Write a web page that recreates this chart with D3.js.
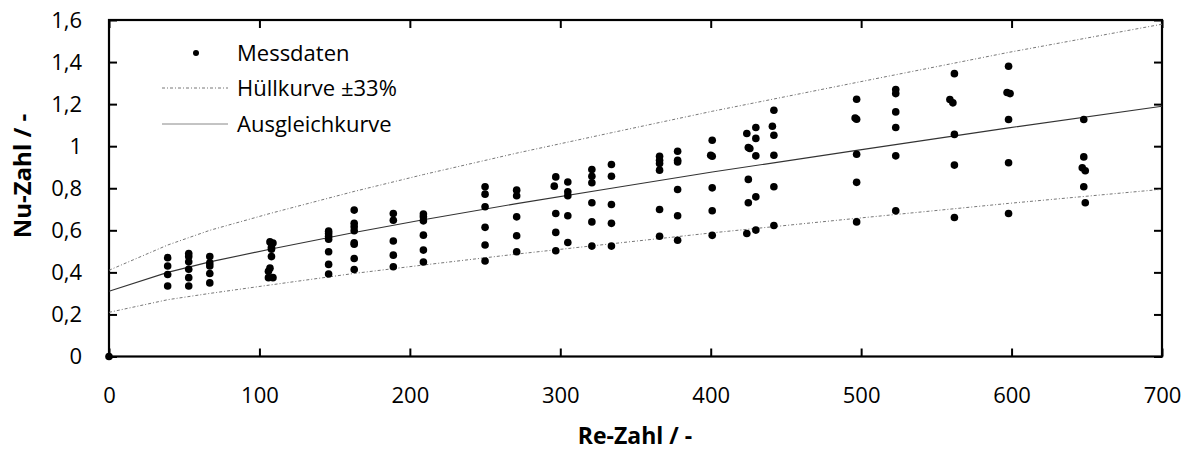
<!DOCTYPE html>
<html>
<head>
<meta charset="utf-8">
<script src="https://cdn.jsdelivr.net/npm/d3@7"></script>
<style>
  body { margin: 0; background: #fff; }
  svg { font-family: "Open Sans", "Noto Sans", sans-serif; }
</style>
</head>
<body>
<script>
// Messdaten (Re, Nu)
const messRe = [0,
  39, 39, 39, 39,
  53, 53, 53, 53, 53, 53,
  67, 67, 67, 67, 67,
  107, 109, 108, 108, 108, 107, 106, 106, 109,
  146, 146, 146, 146, 146, 146, 146,
  163, 163, 163, 163, 163, 163, 163, 163,
  189, 189, 189, 189, 189,
  209, 209, 209, 209, 209, 209,
  250, 250, 250, 250, 250, 250,
  271, 271, 271, 271, 271,
  297, 296, 297, 297, 297,
  305, 305, 305, 305, 305,
  321, 321, 321, 321, 321, 321,
  334, 334, 334, 334, 334,
  366, 366, 366, 366, 366, 366,
  378, 378, 378, 378, 378, 378,
  401, 400, 401, 401, 401, 401,
  424, 425, 426, 425, 425, 424,
  430, 430, 430, 430, 430,
  442, 441, 442, 442, 442, 442,
  497, 496, 497, 497, 497, 497,
  523, 523, 523, 523, 523, 523,
  562, 559, 561, 562, 562, 562,
  598, 597, 599, 598, 598, 598,
  648, 648, 647, 649, 648, 649];
const messNu = [0,
  0.47, 0.43, 0.39, 0.335,
  0.49, 0.475, 0.45, 0.415, 0.375, 0.335,
  0.475, 0.445, 0.43, 0.395, 0.35,
  0.545, 0.54, 0.52, 0.51, 0.475, 0.42, 0.405, 0.375, 0.375,
  0.596, 0.585, 0.572, 0.558, 0.498, 0.438, 0.392,
  0.696, 0.633, 0.617, 0.598, 0.541, 0.534, 0.466, 0.414,
  0.68, 0.648, 0.549, 0.482, 0.427,
  0.677, 0.664, 0.645, 0.577, 0.506, 0.449,
  0.807, 0.772, 0.712, 0.614, 0.53, 0.454,
  0.791, 0.764, 0.664, 0.574, 0.498,
  0.854, 0.81, 0.68, 0.59, 0.503,
  0.83, 0.783, 0.764, 0.669, 0.542,
  0.889, 0.857, 0.826, 0.731, 0.64, 0.525,
  0.913, 0.857, 0.723, 0.633, 0.525,
  0.952, 0.933, 0.918, 0.886, 0.699, 0.572,
  0.976, 0.933, 0.925, 0.794, 0.669, 0.553,
  1.028, 0.957, 0.952, 0.802, 0.693, 0.576,
  1.06, 0.994, 0.989, 0.842, 0.731, 0.585,
  1.089, 1.037, 0.954, 0.759, 0.601,
  1.171, 1.095, 1.052, 0.957, 0.807, 0.623,
  1.223, 1.134, 1.128, 0.962, 0.828, 0.64,
  1.269, 1.25, 1.163, 1.089, 0.954, 0.693,
  1.345, 1.222, 1.206, 1.056, 0.91, 0.661,
  1.38, 1.255, 1.25, 1.127, 0.921, 0.68,
  1.127, 0.949, 0.897, 0.883, 0.807, 0.731];

// Ausgleichkurve und Hüllkurven
const kurveRe = [0, 39, 67, 107, 163, 209, 271, 334, 401, 497, 598, 700];
const ausgleichNu = [0.31, 0.40, 0.45, 0.51, 0.59, 0.65, 0.727, 0.80, 0.877, 0.98, 1.087, 1.19];
const huelleOben = [0.41, 0.53, 0.60, 0.68, 0.785, 0.865, 0.967, 1.064, 1.166, 1.303, 1.446, 1.58];
const huelleUnten = [0.21, 0.27, 0.30, 0.34, 0.395, 0.435, 0.487, 0.536, 0.588, 0.657, 0.728, 0.795];

const xTicks = [0, 100, 200, 300, 400, 500, 600, 700];
const yTicks = [0, 0.2, 0.4, 0.6, 0.8, 1.0, 1.2, 1.4, 1.6];

function main(){
    const W = 1190, H = 452;
    const m = {left: 109, right: 28, top: 20, bottom: 95.5};
    const width = W - m.left - m.right;
    const height = H - m.top - m.bottom;

    const svg = d3.select("body").append("svg")
        .attr("width", W)
        .attr("height", H);

    const x = d3.scaleLinear().domain([0, 700]).range([0, width]);
    const y = d3.scaleLinear().domain([0, 1.6]).range([height, 0]);

    const g = svg.append("g").attr("transform", "translate(" + m.left + "," + m.top + ")");

    const fmt = d => String(+d.toFixed(1)).replace(".", ",");

    // axes with inside ticks
    const axB = g.append("g").attr("transform", "translate(0," + height + ")")
        .call(d3.axisBottom(x).tickValues(xTicks).tickSize(-8).tickPadding(31).tickFormat(d3.format("d")));
    const axT = g.append("g")
        .call(d3.axisTop(x).tickValues(xTicks).tickSize(-8).tickFormat(""));
    const axL = g.append("g")
        .call(d3.axisLeft(y).tickValues(yTicks).tickSize(-8).tickPadding(27).tickFormat(fmt));
    const axR = g.append("g").attr("transform", "translate(" + width + ",0)")
        .call(d3.axisRight(y).tickValues(yTicks).tickSize(-8).tickFormat(""));

    [axB, axT, axL, axR].forEach(a => {
        a.select(".domain").remove();
        a.selectAll(".tick line").attr("stroke", "#000").attr("stroke-width", 2);
        a.selectAll(".tick text").attr("font-size", "22px").attr("fill", "#000")
            .attr("font-family", "'Open Sans', sans-serif");
    });

    // frame
    g.append("rect")
        .attr("width", width).attr("height", height)
        .attr("fill", "none").attr("stroke", "#000").attr("stroke-width", 2.2);

    const line = d3.line()
        .x((d, i) => x(kurveRe[i]))
        .y(d => y(d));

    g.append("path").datum(huelleOben)
        .attr("fill", "none").attr("stroke", "#777").attr("stroke-width", 1)
        .attr("stroke-dasharray", "3,2,1,2")
        .attr("d", line);
    g.append("path").datum(huelleUnten)
        .attr("fill", "none").attr("stroke", "#777").attr("stroke-width", 1)
        .attr("stroke-dasharray", "3,2,1,2")
        .attr("d", line);
    g.append("path").datum(ausgleichNu)
        .attr("fill", "none").attr("stroke", "#333").attr("stroke-width", 1.1)
        .attr("d", line);

    g.append("g").selectAll("circle")
        .data(messRe)
        .join("circle")
        .attr("cx", d => x(d))
        .attr("cy", (d, i) => y(messNu[i]))
        .attr("r", 3.8)
        .attr("fill", "#000");

    // legend
    const lg = svg.append("g");
    const items = [
        {label: "Messdaten", y: 53, type: "dot"},
        {label: "Hüllkurve ±33%", y: 88, type: "dash"},
        {label: "Ausgleichkurve", y: 124, type: "line"}
    ];
    items.forEach(it => {
        if (it.type === "dot") {
            lg.append("circle").attr("cx", 196).attr("cy", it.y).attr("r", 3).attr("fill", "#000");
        } else {
            lg.append("line").attr("x1", 162).attr("x2", 228).attr("y1", it.y).attr("y2", it.y)
                .attr("stroke", it.type === "dash" ? "#777" : "#888").attr("stroke-width", 1)
                .attr("stroke-dasharray", it.type === "dash" ? "3,2,1,2" : null);
        }
        lg.append("text").attr("x", 237).attr("y", it.y).attr("dy", "0.36em")
            .attr("font-size", "22px").text(it.label);
    });

    // axis titles
    svg.append("text")
        .attr("x", 635).attr("y", 444)
        .attr("text-anchor", "middle").attr("font-size", "23px").attr("font-weight", "bold")
        .text("Re-Zahl / -");
    svg.append("text")
        .attr("transform", "translate(31,176) rotate(-90)")
        .attr("text-anchor", "middle").attr("font-size", "24px").attr("font-weight", "bold")
        .text("Nu-Zahl / -");
}
main();
</script>
</body>
</html>
